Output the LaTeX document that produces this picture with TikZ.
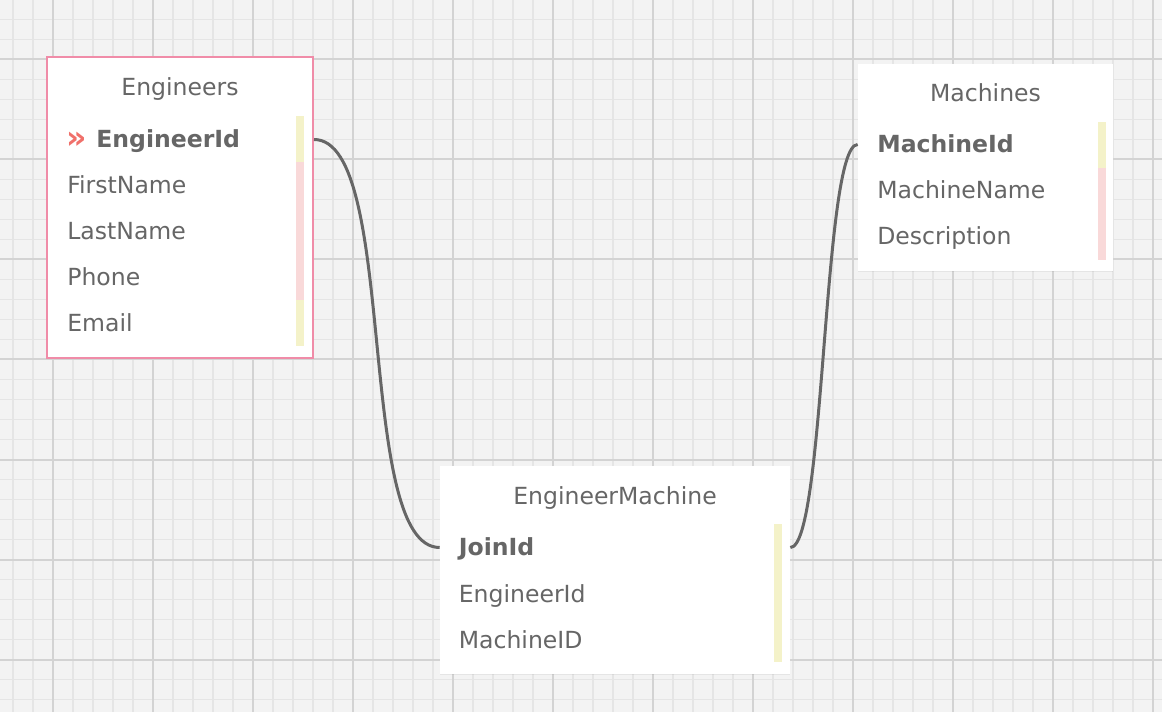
\documentclass[tikz,border=0pt]{standalone}
\usepackage{fontspec}
\setmainfont{DejaVu Sans}
\usepackage{xcolor}
\usepackage{tikz}
\usetikzlibrary{fit,shadows}
\definecolor{gridbg}{HTML}{F3F3F3}
\definecolor{gridminor}{HTML}{E5E5E5}
\definecolor{gridmajor}{HTML}{D3D3D3}
\definecolor{fieldgray}{HTML}{666666}
\definecolor{pkborder}{HTML}{F08CA8}
\definecolor{keyred}{HTML}{F0706A}
\definecolor{barpink}{HTML}{F9D9D9}
\definecolor{baryellow}{HTML}{F4F2C9}
\newcommand{\tablefont}{\fontsize{13.4}{16}\selectfont}
\tikzset{
  tablebox/.style={fit={#1}, inner sep=0pt, fill=white,
    drop shadow={shadow xshift=0pt, shadow yshift=-0.6pt, opacity=0.12}},
  selected/.style={draw=pkborder, line width=0.04cm},
  tabletitle/.style={anchor=base, text=fieldgray, inner sep=0pt, font=\tablefont},
  field/.style={anchor=west, text=fieldgray, inner sep=0pt, font=\tablefont,
    text height=0.34cm, text depth=0pt},
  keyfield/.style={field, font=\tablefont\bfseries},
  link/.style={draw=fieldgray, line width=0.06cm},
}
\begin{document}
\begin{tikzpicture}[x=0.02cm, y=-0.02cm]
\useasboundingbox (0,0) rectangle (1162,712);
\fill[gridbg] (0,0) rectangle (1162,712);
\foreach \x in {13,33,...,1153} \draw[gridminor, line width=0.03cm] (\x,0) -- (\x,712);
\foreach \y in {19.5,39.5,...,700} \draw[gridminor, line width=0.03cm] (0,\y) -- (1162,\y);
\foreach \x in {53,153,...,1153} \draw[gridmajor, line width=0.04cm] (\x,0) -- (\x,712);
\foreach \y in {59.5,159.5,...,660} \draw[gridmajor, line width=0.04cm] (0,\y) -- (1162,\y);

\node[tablebox={(47,57) (313,358)}, selected] (engineers) {};
\node[tabletitle] (engTitle) at (180,96) {Engineers};
\fill[baryellow] (296,116) rectangle (304,162);
\fill[barpink] (296,162) rectangle (304,300);
\fill[baryellow] (296,300) rectangle (304,346);
\node[anchor=west, inner sep=0pt, text=keyred, font=\fontsize{18}{20}\selectfont\bfseries] (engKey) at (66,140) {»};
\node[keyfield] (engId) at (96,139.5) {EngineerId};
\foreach \fld [count=\i] in {FirstName,LastName,Phone,Email}
  \node[field] (eng\i) at (67,139.5+46*\i) {\fld};

\node[tablebox={(858,64) (1113,271)}] (machines) {};
\node[tabletitle] (machTitle) at (985.5,102) {Machines};
\fill[baryellow] (1098,122) rectangle (1106,168);
\fill[barpink] (1098,168) rectangle (1106,260);
\node[keyfield] (machId) at (877,144.5) {MachineId};
\foreach \fld [count=\i] in {MachineName,Description}
  \node[field] (mach\i) at (877,144.5+46*\i) {\fld};

\node[tablebox={(440,466) (790,674)}] (engMachine) {};
\node[tabletitle] (joinTitle) at (615,504) {EngineerMachine};
\fill[baryellow] (774,524) rectangle (782,662);
\node[keyfield] (joinId) at (458.5,547.5) {JoinId};
\foreach \fld [count=\i] in {EngineerId,MachineID}
  \node[field] (join\i) at (458.5,547.5+46*\i) {\fld};

\draw[link] (engineers.east |- engId) .. controls +(85,0) and +(-85,0) .. (engMachine.west |- joinId);
\draw[link] (engMachine.east |- joinId) .. controls +(35,0) and +(-35,0) .. (machines.west |- machId);
\end{tikzpicture}
\end{document}
